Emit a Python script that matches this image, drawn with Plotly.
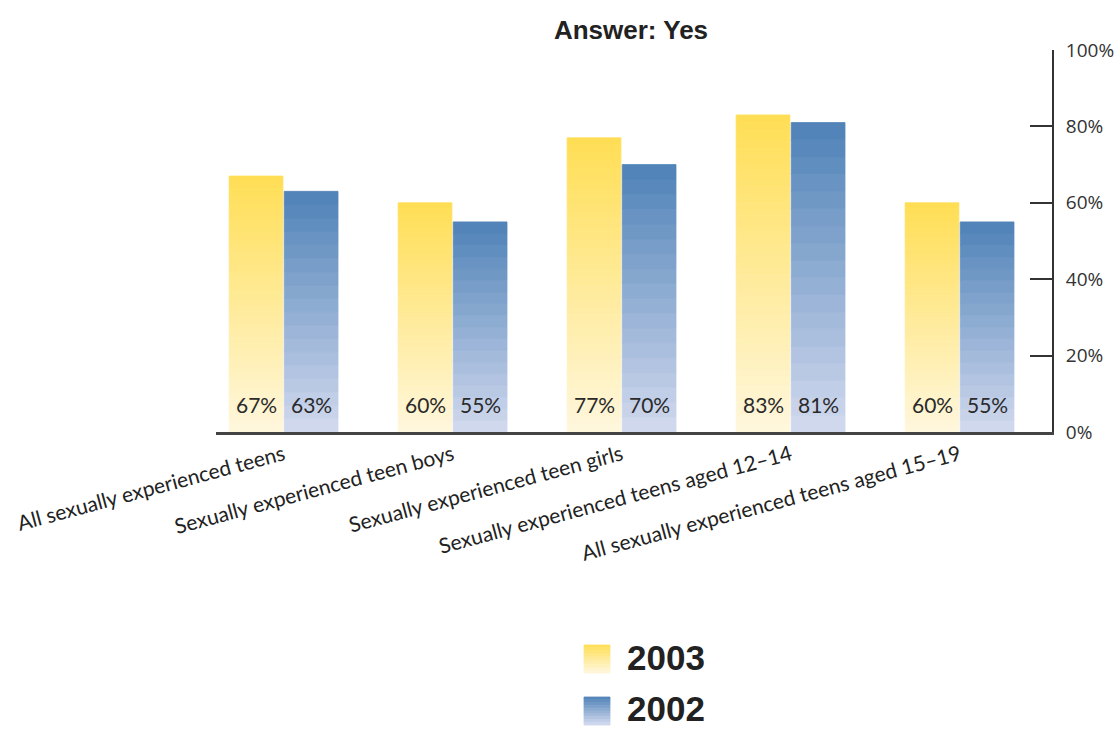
import plotly.graph_objects as go

# Survey results: share of teens answering "Yes"
categories = [
    "All sexually experienced teens",
    "Sexually experienced teen boys",
    "Sexually experienced teen girls",
    "Sexually experienced teens aged 12\u201314",
    "All sexually experienced teens aged 15\u201319",
]
yes_2003 = [67, 60, 77, 83, 60]
yes_2002 = [63, 55, 70, 81, 55]
y_ticks = [0, 20, 40, 60, 80, 100]
y_tick_labels = [f"{t}%" for t in y_ticks]

W, H = 1116, 730
M_L, M_R, M_T, M_B = 216, 64, 50, 298
PLOT_W = W - M_L - M_R
PLOT_H = H - M_T - M_B


def mix(c_a, c_b, t):
    return "rgb({},{},{})".format(*[round(a + (b - a) * t) for a, b in zip(c_a, c_b)])


YEL_TOP, YEL_BOT = (255, 222, 84), (255, 247, 222)
BLU_TOP, BLU_BOT = (78, 130, 183), (211, 218, 239)

series = [
    ("2003", yes_2003, -0.163, YEL_TOP, YEL_BOT, 40),
    ("2002", yes_2002, 0.163, BLU_TOP, BLU_BOT, 18),
]

fig = go.Figure()

# Each bar is built from stacked slices so that it shades from a pale base
# to a saturated top.
for name, vals, off, top, bot, n in series:
    xs = [i + off for i in range(len(vals))]
    for k in range(n):
        col = mix(bot, top, (k + 0.5) / n)
        fig.add_trace(go.Bar(
            x=xs,
            y=[v / n for v in vals],
            base=[v * k / n for v in vals],
            width=0.318,
            marker=dict(color=col, line=dict(width=0.8, color=col)),
            hoverinfo="skip",
            showlegend=False,
            name=name,
        ))

annotations = []
for name, vals, off, *_ in series:
    for i, v in enumerate(vals):
        annotations.append(dict(
            x=i + off, y=0, xref="x", yref="y",
            text=f"{v}%", showarrow=False,
            yanchor="middle", yshift=28,
            font=dict(family="Lato", size=21, color="#2a2a2a"),
        ))


def px_x(p):
    return (p - M_L) / PLOT_W


def px_y(p):
    return (H - M_B - p) / PLOT_H


# Legend: gradient swatches with bold year labels
shapes = []
legend_rows = [("2003", YEL_TOP, YEL_BOT, 645, 657), ("2002", BLU_TOP, BLU_BOT, 697, 708)]
for label, top, bot, y_top, y_text in legend_rows:
    steps = 10
    size = 28
    for k in range(steps):
        col = mix(top, bot, (k + 0.5) / steps)
        shapes.append(dict(
            type="rect", xref="paper", yref="paper",
            x0=px_x(584), x1=px_x(610),
            y0=px_y(y_top + size * k / steps), y1=px_y(y_top + size * (k + 1) / steps),
            fillcolor=col, line=dict(width=0.8, color=col), layer="above",
        ))
    annotations.append(dict(
        x=px_x(625), y=px_y(y_text), xref="paper", yref="paper",
        text=f"<b>{label}</b>", showarrow=False, xanchor="left", yanchor="middle",
        font=dict(family="Liberation Sans", size=35, color="#222222"),
    ))

fig.update_layout(
    width=W, height=H,
    margin=dict(l=M_L, r=M_R, t=M_T, b=M_B),
    paper_bgcolor="white", plot_bgcolor="white",
    barmode="overlay",
    title=dict(
        text="<b>Answer: Yes</b>",
        x=631 / W, xanchor="center", y=1 - 30 / H, yanchor="middle",
        font=dict(family="Liberation Sans", size=26, color="#222222"),
    ),
    xaxis=dict(
        range=[-0.4, 4.547],
        tickvals=list(range(len(categories))),
        ticktext=categories,
        tickangle=-15,
        tickfont=dict(family="Lato", size=21, color="#222222"),
        showline=True, linecolor="#444444", linewidth=2.5,
        ticks="", showgrid=False, zeroline=False,
        automargin=False,
    ),
    yaxis=dict(
        side="right",
        range=[0, 100],
        tickvals=y_ticks, ticktext=y_tick_labels,
        ticks="inside", ticklen=22, tickwidth=1.5, tickcolor="#333333",
        showline=True, linecolor="#333333", linewidth=2,
        showgrid=False, zeroline=False,
        ticklabelstandoff=8,
        tickfont=dict(family="Open Sans", size=19, color="#333333"),
        automargin=False,
    ),
    shapes=shapes,
    annotations=annotations,
)

fig.write_html("out.html")
